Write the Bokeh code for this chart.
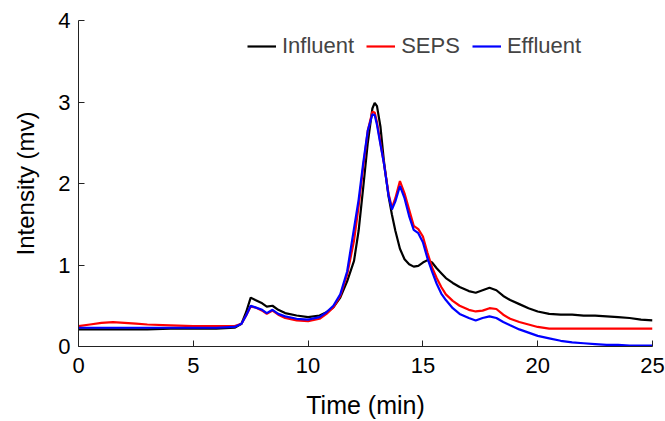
from bokeh.plotting import figure
from bokeh.models import ColumnDataSource, FixedTicker, Range1d, Legend, LegendItem
from bokeh.embed import file_html
from bokeh.resources import INLINE

# Time (min)
time = [0, 0.5, 1, 1.5, 2, 2.5, 3, 4, 5, 6, 6.8, 7.1, 7.3, 7.5, 7.7, 8.0, 8.2, 8.45, 8.7,
        9.0, 9.5, 10.0, 10.5, 10.8, 11.1, 11.4, 11.7, 12.0, 12.2, 12.4, 12.6, 12.8, 12.9,
        13.0, 13.15, 13.3, 13.5, 13.65, 13.8, 14.0, 14.2, 14.4, 14.6, 14.8, 15.0, 15.2,
        15.4, 15.6, 15.8, 16.0, 16.3, 16.6, 17.0, 17.3, 17.6, 17.9, 18.2, 18.5, 18.8,
        19.2, 19.6, 20.0, 20.5, 21, 21.5, 22, 22.5, 23, 23.5, 24, 24.5, 25]

influent = [0.21, 0.21, 0.21, 0.21, 0.21, 0.21, 0.21, 0.22, 0.22, 0.22, 0.23, 0.28, 0.42,
            0.60, 0.57, 0.53, 0.49, 0.50, 0.45, 0.41, 0.38, 0.36, 0.38, 0.42, 0.48, 0.60,
            0.80, 1.05, 1.42, 1.95, 2.50, 2.92, 2.99, 2.95, 2.70, 2.28, 1.85, 1.62, 1.42,
            1.20, 1.07, 1.01, 0.98, 0.99, 1.03, 1.06, 1.03, 0.96, 0.90, 0.84, 0.78, 0.73,
            0.68, 0.66, 0.69, 0.72, 0.69, 0.62, 0.57, 0.52, 0.47, 0.43, 0.40, 0.39, 0.39,
            0.38, 0.38, 0.37, 0.36, 0.35, 0.33, 0.32]

seps = [0.25, 0.27, 0.29, 0.30, 0.29, 0.28, 0.27, 0.26, 0.25, 0.25, 0.25, 0.28, 0.38,
        0.49, 0.48, 0.44, 0.40, 0.44, 0.39, 0.35, 0.32, 0.31, 0.34, 0.40, 0.48, 0.62,
        0.88, 1.30, 1.72, 2.20, 2.65, 2.88, 2.87, 2.75, 2.50, 2.25, 1.88, 1.70, 1.82,
        2.03, 1.88, 1.68, 1.48, 1.44, 1.35, 1.15, 0.97, 0.84, 0.73, 0.64, 0.56, 0.50,
        0.45, 0.43, 0.44, 0.47, 0.46, 0.39, 0.34, 0.30, 0.27, 0.24, 0.22, 0.22, 0.22,
        0.22, 0.22, 0.22, 0.22, 0.22, 0.22, 0.22]

effluent = [0.23, 0.23, 0.23, 0.23, 0.23, 0.23, 0.23, 0.23, 0.23, 0.23, 0.24, 0.28, 0.38,
            0.50, 0.48, 0.45, 0.41, 0.45, 0.40, 0.37, 0.34, 0.33, 0.36, 0.42, 0.50, 0.64,
            0.92, 1.45, 1.80, 2.25, 2.65, 2.85, 2.84, 2.72, 2.48, 2.25, 1.86, 1.68, 1.78,
            1.97, 1.82, 1.60, 1.43, 1.39, 1.28, 1.08, 0.92, 0.77, 0.65, 0.57, 0.47, 0.40,
            0.35, 0.32, 0.35, 0.37, 0.35, 0.30, 0.26, 0.21, 0.17, 0.13, 0.10, 0.07, 0.05,
            0.04, 0.03, 0.02, 0.02, 0.01, 0.01, 0.01]

x_ticks = [0, 5, 10, 15, 20, 25]
y_ticks = [0, 1, 2, 3, 4]
series_names = ["Influent", "SEPS", "Effluent"]
series_colors = ["#000000", "#ff0000", "#0000ff"]

FONT = "Liberation Sans"

p = figure(width=665, height=421, output_backend="svg", toolbar_location=None,
           x_range=Range1d(0, 25), y_range=Range1d(0, 4),
           min_border_left=78, min_border_right=13, min_border_top=20, min_border_bottom=72)
p.outline_line_color = None
p.xgrid.visible = False
p.ygrid.visible = False

src = ColumnDataSource(dict(t=time, a=influent, b=seps, c=effluent))
renderers = []
for col, color in zip(["a", "b", "c"], series_colors):
    r = p.line("t", col, source=src, line_color=color, line_width=2.2)
    renderers.append(r)

for ax, ticks in ((p.xaxis[0], x_ticks), (p.yaxis[0], y_ticks)):
    ax.ticker = FixedTicker(ticks=ticks)
    ax.minor_tick_line_color = None
    ax.major_tick_in = 6
    ax.major_tick_out = 0
    ax.axis_line_color = "#222222"
    ax.major_tick_line_color = "#222222"
    ax.major_label_text_font = FONT
    ax.major_label_text_font_size = "22px"
    ax.major_label_text_color = "#000000"
    ax.axis_label_text_font = FONT
    ax.axis_label_text_font_style = "normal"
    ax.axis_label_text_color = "#000000"

p.xaxis.axis_label = "Time (min)"
p.yaxis.axis_label = "Intensity (mv)"
p.xaxis.axis_label_text_font_size = "25px"
p.yaxis.axis_label_text_font_size = "24px"
p.xaxis.major_label_standoff = 11
p.yaxis.major_label_standoff = 8
p.xaxis.axis_label_standoff = 15
p.yaxis.axis_label_standoff = 16

legend = Legend(items=[LegendItem(label=n, renderers=[r]) for n, r in zip(series_names, renderers)],
                orientation="horizontal", location=(169, 287),
                glyph_width=29, glyph_height=22, label_height=22, label_standoff=6,
                spacing=12, padding=0, margin=0,
                label_text_font=FONT, label_text_font_size="22px",
                border_line_color=None, background_fill_alpha=0)
p.add_layout(legend, "center")

open("out.html", "w").write(file_html(p, INLINE))
